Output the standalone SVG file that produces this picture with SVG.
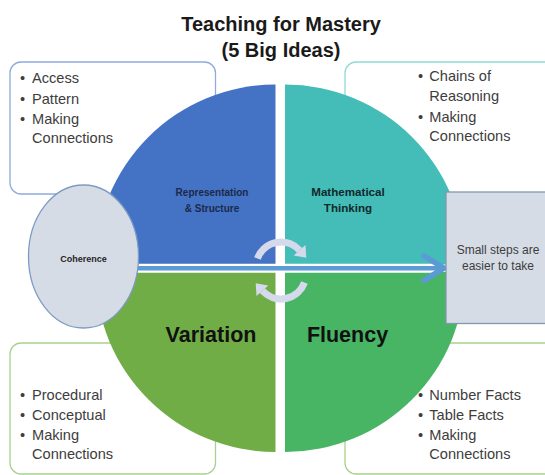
<svg xmlns="http://www.w3.org/2000/svg" width="545" height="475" viewBox="0 0 545 475">
  <defs>
    <style>
      .bx { fill: #ffffff; stroke-width: 1.3; }
      .lst { font-family: "Liberation Sans", Arial, sans-serif; font-size: 14.6px; fill: #3d3d3d; }
      .blt { text-anchor: middle; }
      .ttl { font-family: "Liberation Sans", Arial, sans-serif; font-size: 20px; font-weight: bold; fill: #1a1a1a; text-anchor: middle; }
      .qs { font-family: "Liberation Sans", Arial, sans-serif; font-weight: bold; text-anchor: middle; }
      .big { font-family: "Liberation Sans", Arial, sans-serif; font-weight: bold; font-size: 21.5px; fill: #111111; text-anchor: middle; }
      .step { font-family: "Liberation Sans", Arial, sans-serif; font-size: 12px; fill: #3d3d3d; text-anchor: middle; }
      .grey { fill: #D6DCE5; }
      .circ { fill: #D5D9EC; }
    </style>
    <g id="circArrow">
      <path d="M257.5,258.45 A25,25 0 0 1 299.6,250.3" fill="none" stroke="#D5D9EC" stroke-width="7"/>
      <polygon class="circ" points="305.5,244.9 293.7,255.6 306.3,257.7"/>
    </g>
  </defs>

  <rect width="545" height="475" fill="#ffffff"/>

  <g id="title">
    <text class="ttl" x="281" y="31">Teaching for Mastery</text>
    <text class="ttl" x="281" y="57">(5 Big Ideas)</text>
  </g>

  <g id="box-representation-notes">
    <rect class="bx" x="10" y="62" width="205.5" height="132" rx="11" stroke="#8FAADC"/>
    <text class="lst blt" x="22.6" y="83">•</text><text class="lst" x="32" y="83">Access</text>
    <text class="lst blt" x="22.6" y="103.5">•</text><text class="lst" x="32" y="103.5">Pattern</text>
    <text class="lst blt" x="22.6" y="124">•</text><text class="lst" x="32" y="124">Making</text>
    <text class="lst" x="32" y="143">Connections</text>
  </g>

  <g id="box-thinking-notes">
    <rect class="bx" x="345" y="62" width="215" height="132" rx="11" stroke="#93DAD5"/>
    <text class="lst blt" x="420.6" y="81">•</text><text class="lst" x="429.3" y="81">Chains of</text>
    <text class="lst" x="429.3" y="101">Reasoning</text>
    <text class="lst blt" x="420.6" y="121.5">•</text><text class="lst" x="429.3" y="121.5">Making</text>
    <text class="lst" x="429.3" y="140.5">Connections</text>
  </g>

  <g id="box-variation-notes">
    <rect class="bx" x="10" y="343" width="205.5" height="131" rx="11" stroke="#A9D18E"/>
    <text class="lst blt" x="22.6" y="400">•</text><text class="lst" x="32" y="400">Procedural</text>
    <text class="lst blt" x="22.6" y="420">•</text><text class="lst" x="32" y="420">Conceptual</text>
    <text class="lst blt" x="22.6" y="440">•</text><text class="lst" x="32" y="440">Making</text>
    <text class="lst" x="32" y="459">Connections</text>
  </g>

  <g id="box-fluency-notes">
    <rect class="bx" x="345" y="343" width="215" height="131" rx="11" stroke="#A9D18E"/>
    <text class="lst blt" x="420.6" y="400">•</text><text class="lst" x="429.3" y="400">Number Facts</text>
    <text class="lst blt" x="420.6" y="420">•</text><text class="lst" x="429.3" y="420">Table Facts</text>
    <text class="lst blt" x="420.6" y="440">•</text><text class="lst" x="429.3" y="440">Making</text>
    <text class="lst" x="429.3" y="459">Connections</text>
  </g>

  <g id="node-representation">
    <path d="M275.5,264.5 L95.5,264.5 A180,180 0 0 1 275.5,84.5 Z" fill="#4472C4"/>
    <text class="qs" x="212" y="196" font-size="10px" fill="#1b2a4a">Representation</text>
    <text class="qs" x="212" y="211.5" font-size="10px" fill="#1b2a4a">&amp; Structure</text>
  </g>

  <g id="node-mathematical">
    <path d="M285,264.5 L285,84.5 A180,180 0 0 1 465,264.5 Z" fill="#44BDB8"/>
    <text class="qs" x="348" y="196" font-size="11.6px" fill="#10292b">Mathematical</text>
    <text class="qs" x="348" y="212" font-size="11.6px" fill="#10292b">Thinking</text>
  </g>

  <g id="node-variation">
    <path d="M275.5,272 L275.5,452 A180,180 0 0 1 95.5,272 Z" fill="#70AD47"/>
    <text class="big" x="211" y="342">Variation</text>
  </g>

  <g id="node-fluency">
    <path d="M285,272 L465,272 A180,180 0 0 1 285,452 Z" fill="#47B564"/>
    <text class="big" x="347.5" y="342">Fluency</text>
  </g>

  <g id="connectors">
    <line x1="130" y1="268.2" x2="440" y2="268.2" stroke="#ffffff" stroke-width="9"/>
    <line x1="130" y1="268.2" x2="441" y2="268.2" stroke="#5B9BD5" stroke-width="4.6"/>
    <polyline points="424,256 444,268.2 424,280.4" fill="none" stroke="#5B9BD5" stroke-width="5.5" stroke-linecap="round" stroke-linejoin="round"/>
    <use href="#circArrow"/>
    <use href="#circArrow" transform="rotate(180 281 270.5)"/>
  </g>

  <g id="node-coherence">
    <ellipse class="grey" cx="83.5" cy="256.5" rx="55" ry="71.5" stroke="#7D9CC4" stroke-width="1.3"/>
    <text class="qs" x="83.5" y="261.5" font-size="9px" fill="#262626">Coherence</text>
  </g>

  <g id="node-small-steps">
    <rect class="grey" x="446" y="192" width="110" height="131.5" stroke="#8497B0" stroke-width="1.3"/>
    <text class="step" x="498" y="254">Small steps are</text>
    <text class="step" x="498" y="270">easier to take</text>
  </g>
</svg>
